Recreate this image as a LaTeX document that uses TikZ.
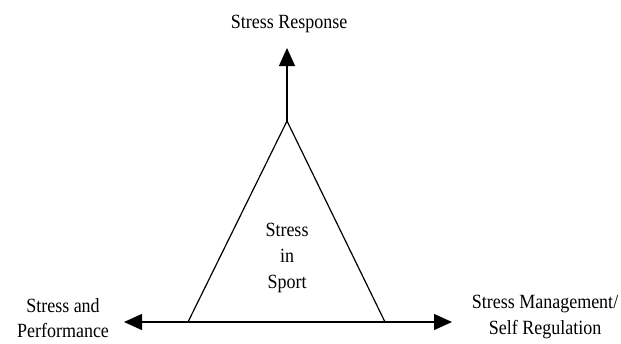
\documentclass[tikz,border=0pt]{standalone}
\usepackage{fontspec}
\setmainfont{Liberation Serif}
\usetikzlibrary{arrows.meta}
\begin{document}
\begin{tikzpicture}[x=1pt,y=-1pt,
  lbl/.style={align=center,inner sep=0pt,font=\fontsize{18}{23}\selectfont,yscale=1.12,transform shape},
  conn/.style={line width=1.3pt,-{Triangle[length=18pt,width=16pt]}},
  tri/.style={line width=1.2pt,line join=miter}]
\useasboundingbox (0,0) rectangle (621,343);
\coordinate (apex) at (287,121);
\coordinate (bl) at (188,322);
\coordinate (br) at (385,322);
\coordinate (top) at (287,48);
\coordinate (left) at (124,322);
\coordinate (right) at (452,322);
\coordinate (mid) at (287,322);
\draw[tri] (bl) -- (apex) -- (br);
\draw[conn] (apex) -- (top);
\draw[conn] (mid) -- (left);
\draw[conn] (mid) -- (right);
\node[lbl] (resp) at (289,24) {Stress Response};
\node[lbl] (sport) at (287,258) {Stress\\in\\Sport};
\node[lbl] (perf) at (63,318) {Stress and\\Performance};
\node[lbl] (mgmt) at (545,317) {Stress Management/\\Self Regulation};
\end{tikzpicture}
\end{document}
